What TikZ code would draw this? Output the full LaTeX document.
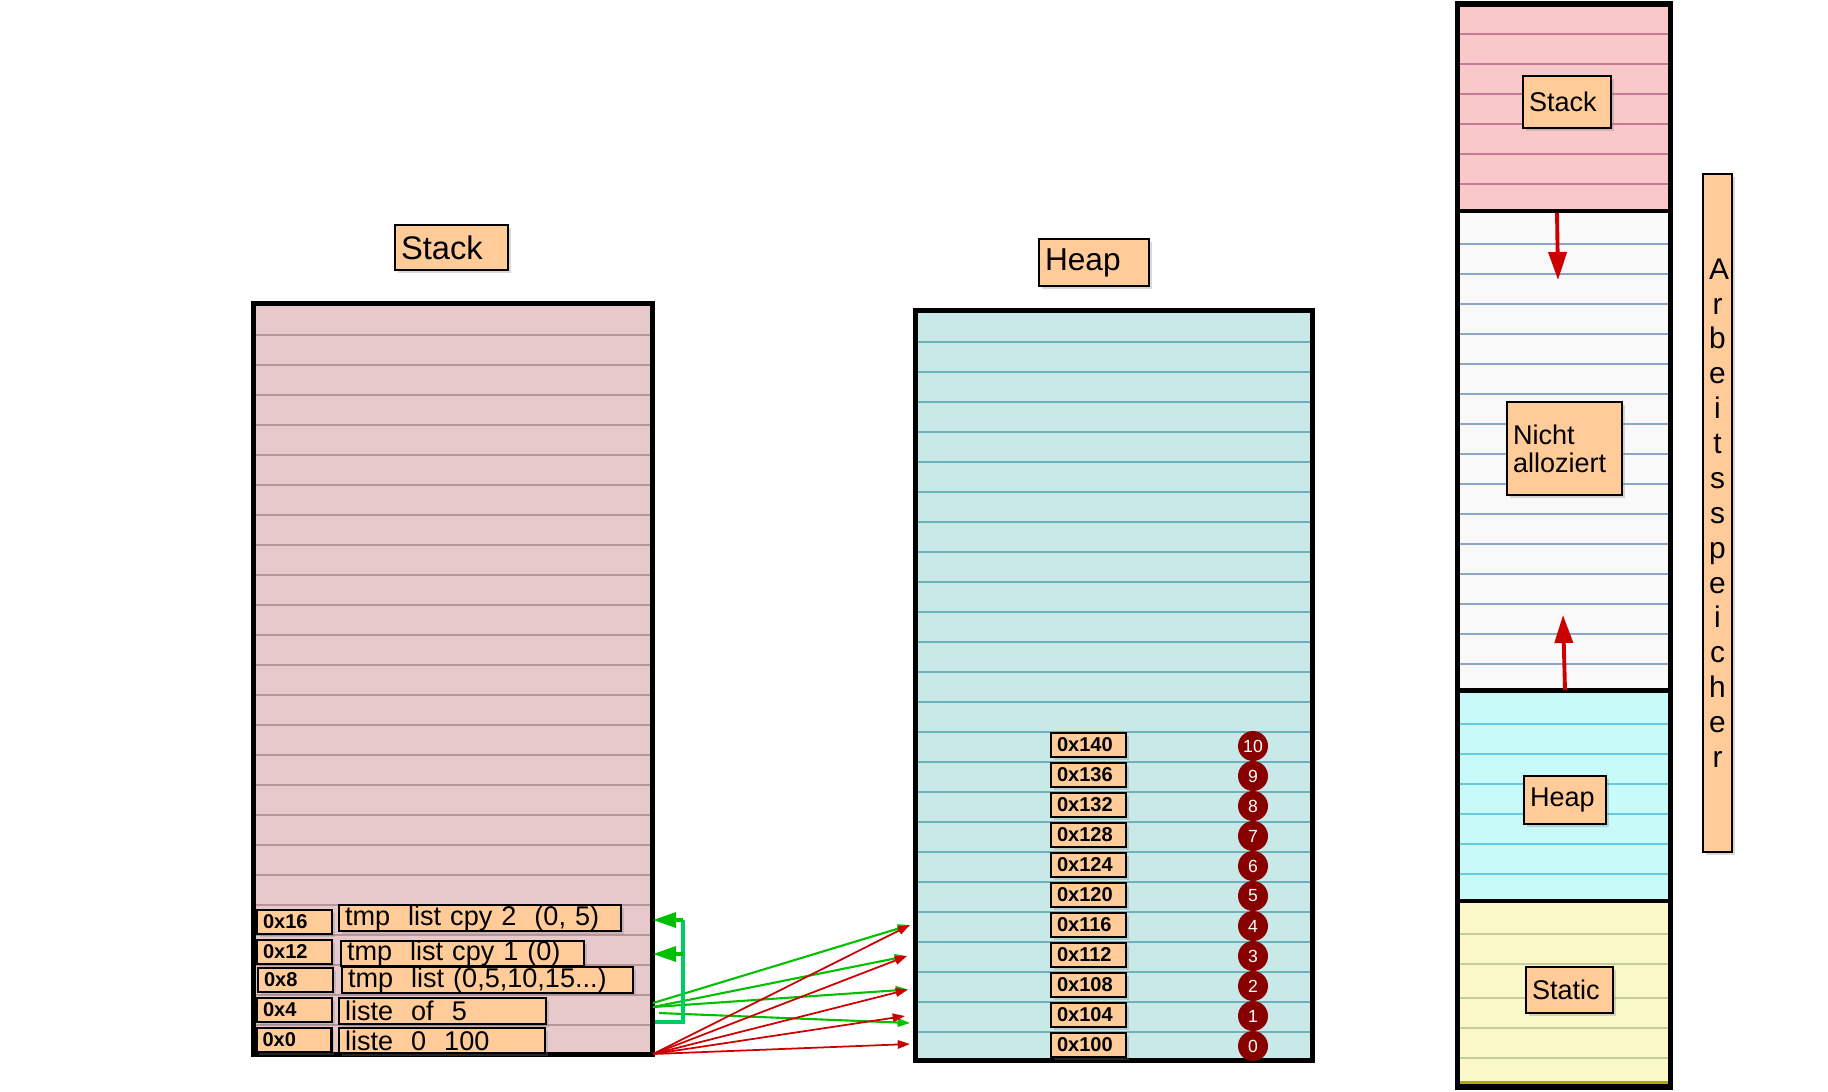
\documentclass[tikz,border=0pt]{standalone}
\usepackage{fontspec}
\setmainfont{Liberation Sans}
\usetikzlibrary{arrows.meta,shadows}

\definecolor{peach}{HTML}{FFCC99}
\definecolor{stackbg}{HTML}{E8C9CB}
\definecolor{stackln}{HTML}{B8959B}
\definecolor{heapbg}{HTML}{C9E8E8}
\definecolor{heapln}{HTML}{6FB1BA}
\definecolor{rstackbg}{HTML}{F9C8C8}
\definecolor{rstackln}{HTML}{C47A98}
\definecolor{freebg}{HTML}{F9F9F9}
\definecolor{freeln}{HTML}{8CA6C4}
\definecolor{rheapbg}{HTML}{C8FAFA}
\definecolor{rheapln}{HTML}{66CCDD}
\definecolor{statbg}{HTML}{FAF8C8}
\definecolor{statln}{HTML}{C2CC9C}
\definecolor{statbot}{HTML}{AAAA00}
\definecolor{ptrgreen}{HTML}{00C000}
\definecolor{brkgreen}{HTML}{00CC66}
\definecolor{growred}{HTML}{CC0000}
\definecolor{cellred}{HTML}{880000}

\tikzset{
  lbl/.style={draw, fill=peach, line width=0.6pt, inner xsep=0.06cm, inner ysep=0pt,
    align=left, font=\fontsize{7.7}{8}\selectfont,
    drop shadow={shadow xshift=0.8pt, shadow yshift=-0.8pt, opacity=0.3}},
  addr/.style={lbl, font=\bfseries\fontsize{5.7}{6}\selectfont, text width=0.63cm, minimum height=0.24cm},
  heapcell/.style={circle, fill=cellred, text=white, inner sep=0pt, minimum size=0.3cm,
    font=\fontsize{5}{5}\selectfont},
  ptr/.style={-{Triangle[length=3.5pt,width=2.4pt]}, line width=0.5pt},
  ptrbig/.style={ptrgreen, line width=1pt, -{Triangle[length=0.23cm,width=0.15cm]}},
  growarrow/.style={growred, line width=1.1pt, -{Triangle[length=0.28cm,width=0.18cm]}},
  frame/.style={line width=1.4pt}
}

\begin{document}
\begin{tikzpicture}[y=-1cm]
\useasboundingbox (0,0) rectangle (18.28,10.91);

% ---------- Stack (left) ----------
\node[lbl, text width=1.01cm, minimum height=0.45cm, font=\fontsize{9.3}{10}\selectfont] (stacktitle) at (4.515,2.475) {Stack};
\fill[stackbg] (2.535,3.035) rectangle (6.525,10.545);
\foreach \k in {0,...,23}
  \draw[stackln, line width=0.35pt] (2.56,{3.35+0.3*\k}) -- (6.50,{3.35+0.3*\k});
\draw[frame] (2.535,3.035) rectangle (6.525,10.545);

\node[addr] (sa16) at (2.945,9.22) {0x16};
\node[addr] (sa12) at (2.945,9.52) {0x12};
\node[addr] (sa8)  at (2.955,9.80) {0x8};
\node[addr] (sa4)  at (2.945,10.10) {0x4};
\node[addr] (sa0)  at (2.94,10.40) {0x0};

\node[lbl, text width=2.70cm, minimum height=0.26cm] (cpy2) at (4.80,9.18) {tmp\ \ list cpy 2\ \ (0, 5)};
\node[lbl, text width=2.31cm, minimum height=0.25cm] (cpy1) at (4.625,9.535) {tmp\ \ list cpy 1 (0)};
\node[lbl, text width=2.79cm, minimum height=0.24cm] (tmpl) at (4.875,9.80) {tmp\ \ list (0,5,10,15...)};
\node[lbl, text width=1.95cm, minimum height=0.26cm] (of5)  at (4.425,10.11) {liste\ \ of\ \ 5};
\node[lbl, text width=1.94cm, minimum height=0.25cm] (l0)   at (4.42,10.405) {liste\ \ 0\ \ 100};

% ---------- Heap (middle) ----------
\node[lbl, text width=0.98cm, minimum height=0.47cm, font=\fontsize{9}{10}\selectfont] (heaptitle) at (10.94,2.625) {Heap};
\fill[heapbg] (9.155,3.105) rectangle (13.125,10.605);
\foreach \k in {0,...,23}
  \draw[heapln, line width=0.35pt] (9.18,{3.42+0.3*\k}) -- (13.10,{3.42+0.3*\k});
\draw[frame] (9.155,3.105) rectangle (13.125,10.605);

\foreach \a [count=\i from 0] in {140,136,132,128,124,120,116,112,108,104,100} {
  \pgfmathtruncatemacro\v{10-\i}
  \node[addr, text width=0.63cm, minimum height=0.245cm] (ha\a) at (10.885,{7.45+0.3*\i}) {0x\a};
  \node[heapcell] (hc\v) at (12.53,{7.46+0.3*\i}) {\v};
}

% ---------- pointers stack -> heap ----------
\coordinate (g1) at (6.53,10.03);
\coordinate (g2) at (6.53,10.07);
\coordinate (g3) at (6.59,10.13);
\coordinate (r0) at (6.53,10.54);
\coordinate (t1) at (9.10,9.25);
\coordinate (t2) at (9.07,9.56);
\coordinate (t3) at (9.08,9.895);
\coordinate (t4) at (9.05,10.16);
\coordinate (t4g) at (9.10,10.23);
\coordinate (t5) at (9.10,10.44);

\draw[ptr, ptrgreen, line width=0.6pt] (g1) -- (t1);
\draw[ptr, ptrgreen, line width=0.6pt] (g2) -- (t2);
\draw[ptr, ptrgreen, line width=0.6pt] (g2) -- (t3);
\draw[ptr, ptrgreen, line width=0.6pt] (g3) -- (t4g);
\foreach \t in {t1,t2,t3,t4,t5}
  \draw[ptr, growred] (r0) -- (\t);

% ---------- copies (bracket) ----------
\coordinate (bb) at (6.55,10.22);
\coordinate (bc) at (6.83,10.22);
\coordinate (bt) at (6.83,9.20);
\coordinate (bm) at (6.83,9.54);
\coordinate (at1) at (6.53,9.20);
\coordinate (at2) at (6.53,9.54);
\draw[brkgreen, line width=1pt] (bb) -- (bc) -- (bt);
\draw[ptrbig] (bt) -- (at1);
\draw[ptrbig] (bm) -- (at2);

% ---------- Arbeitsspeicher (right) ----------
\fill[rstackbg] (14.575,0.04) rectangle (16.705,2.11);
\fill[freebg]   (14.575,2.11) rectangle (16.705,6.905);
\fill[rheapbg]  (14.575,6.905) rectangle (16.705,9.01);
\fill[statbg]   (14.575,9.01) rectangle (16.705,10.87);
\foreach \k in {0,...,5}
  \draw[rstackln, line width=0.35pt] (14.60,{0.34+0.3*\k}) -- (16.68,{0.34+0.3*\k});
\foreach \k in {0,...,14}
  \draw[freeln, line width=0.35pt] (14.60,{2.44+0.3*\k}) -- (16.68,{2.44+0.3*\k});
\foreach \k in {0,...,5}
  \draw[rheapln, line width=0.35pt] (14.60,{7.24+0.3*\k}) -- (16.68,{7.24+0.3*\k});
\foreach \y in {9.34,9.64,9.98,10.28,10.58}
  \draw[statln, line width=0.35pt] (14.60,\y) -- (16.68,\y);
\draw[statbot, line width=1pt] (14.60,10.83) -- (16.68,10.83);
\draw[line width=1.3pt] (14.575,2.11) -- (16.705,2.11);
\draw[line width=1.3pt] (14.575,6.905) -- (16.705,6.905);
\draw[line width=1.3pt] (14.575,9.01) -- (16.705,9.01);
\draw[line width=1.5pt] (14.575,0.04) rectangle (16.705,10.87);

\node[lbl, text width=0.76cm, minimum height=0.52cm] (rstack) at (15.67,1.02) {Stack};
\node[lbl, text width=1.03cm, minimum height=0.93cm] (free) at (15.645,4.485) {Nicht\\alloziert};
\node[lbl, text width=0.70cm, minimum height=0.48cm] (rheap) at (15.65,8.00) {Heap};
\node[lbl, text width=0.75cm, minimum height=0.46cm] (static) at (15.695,9.90) {Static};

\coordinate (stackedge) at (15.57,2.13);
\coordinate (stackgrow) at (15.58,2.80);
\coordinate (heapedge) at (15.65,6.90);
\coordinate (heapgrow) at (15.63,6.15);
\draw[growarrow] (stackedge) -- (stackgrow);
\draw[growarrow] (heapedge) -- (heapgrow);

\node[lbl, align=center, text width=0.17cm, minimum height=6.78cm, font=\fontsize{8.5}{9.92}\selectfont] (ram) at (17.175,5.13)
  {A\\r\\b\\e\\i\\t\\s\\s\\p\\e\\i\\c\\h\\e\\r};

\end{tikzpicture}
\end{document}
